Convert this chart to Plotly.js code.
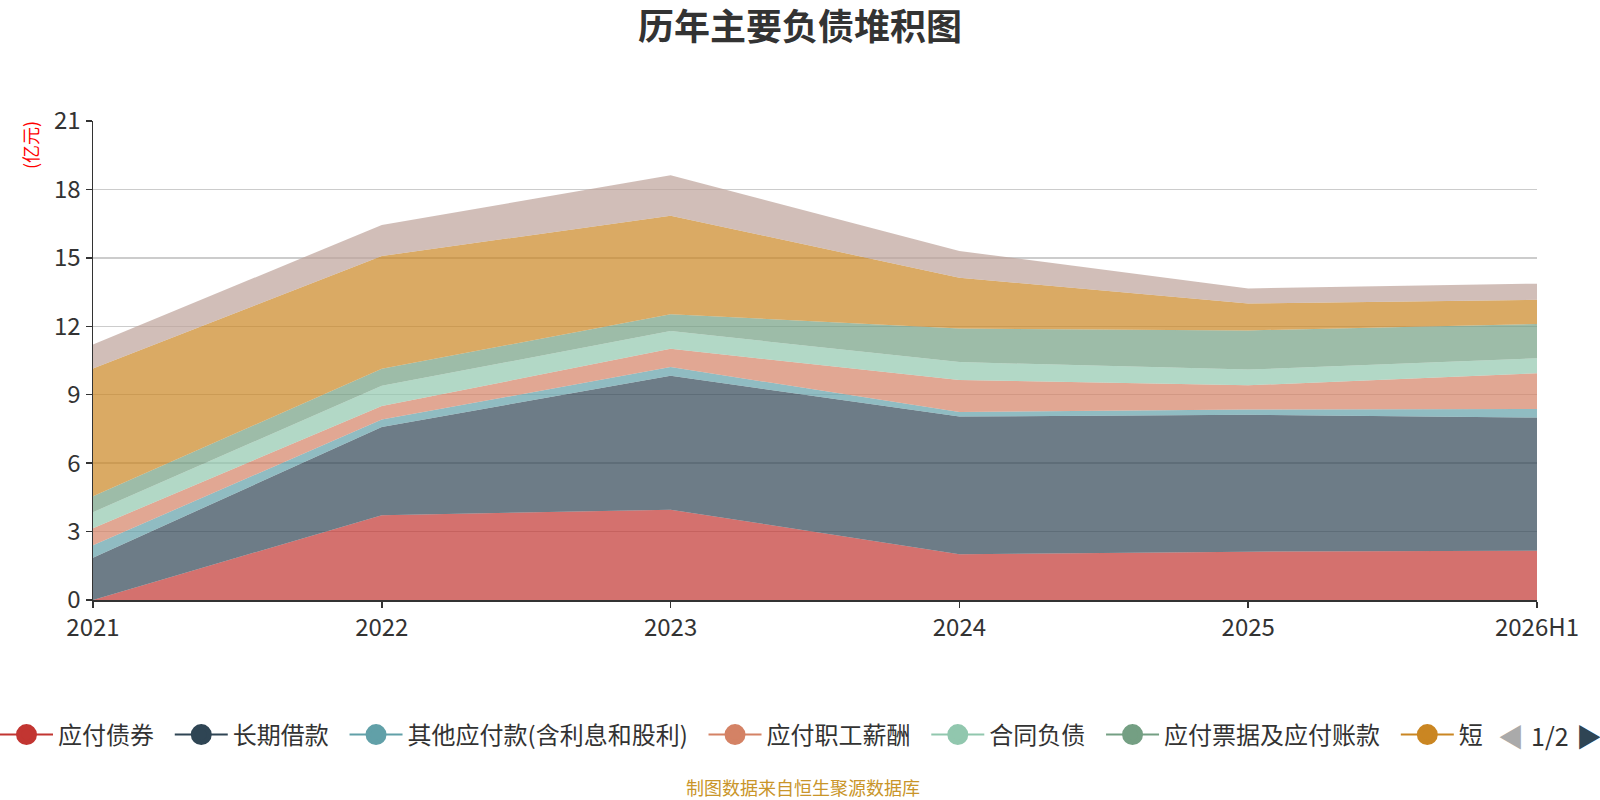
<!DOCTYPE html>
<html>
<head>
<meta charset="utf-8">
<script src="https://cdn.plot.ly/plotly-3.0.1.min.js"></script>
<style>
  html, body { margin: 0; padding: 0; background: #fff; }
  #chart { width: 1600px; height: 800px; }
</style>
</head>
<body>
<div id="chart"></div>
<script>
// 单位：亿元
const years = ["2021", "2022", "2023", "2024", "2025", "2026H1"];
const bonds = [0.00, 3.72, 3.96, 2.01, 2.12, 2.16];            // 应付债券
const longLoans = [1.85, 3.87, 5.87, 6.03, 6.00, 5.84];        // 长期借款
const otherPayables = [0.55, 0.32, 0.38, 0.20, 0.23, 0.37];    // 其他应付款(含利息和股利)
const staffPay = [0.75, 0.59, 0.80, 1.41, 1.06, 1.57];         // 应付职工薪酬
const contractLiab = [0.70, 0.89, 0.78, 0.78, 0.69, 0.66];     // 合同负债
const notesAccounts = [0.70, 0.75, 0.74, 1.47, 1.72, 1.50];    // 应付票据及应付账款
const shortLoans = [5.60, 4.94, 4.32, 2.23, 1.18, 1.06];       // 短期借款
const dueWithinYear = [1.05, 1.36, 1.77, 1.17, 0.66, 0.71];    // 一年内到期的非流动负债

const seriesNames = ["应付债券", "长期借款", "其他应付款(含利息和股利)", "应付职工薪酬",
                     "合同负债", "应付票据及应付账款", "短期借款", "一年内到期的非流动负债"];
const seriesValues = [bonds, longLoans, otherPayables, staffPay,
                      contractLiab, notesAccounts, shortLoans, dueWithinYear];
const colors = ["#c23531", "#2f4554", "#61a0a8", "#d48265",
                "#91c7ae", "#749f83", "#ca8622", "#bda29a"];

// legend page 1 of 2; the last visible entry is cut off by the pager
const legendLabels = ["应付债券", "长期借款", "其他应付款(含利息和股利)", "应付职工薪酬",
                      "合同负债", "应付票据及应付账款", "短"];

function rgba(hex, a) {
    const n = parseInt(hex.slice(1), 16);
    return `rgba(${(n >> 16) & 255},${(n >> 8) & 255},${n & 255},${a})`;
}

const FONT = "Noto Sans CJK SC, Noto Sans, sans-serif";
const W = 1600, H = 800;
const M = { l: 93, r: 63, t: 121, b: 200 };
const plotW = W - M.l - M.r, plotH = H - M.t - M.b;
// pixel -> paper helpers for the loose texts
const px = (x) => (x - M.l) / plotW;
const py = (y) => (H - M.b - y) / plotH;

const pad = "\u00a0\u00a0";

// stacked areas
const areaTraces = seriesValues.map((vals, i) => ({
    type: "scatter",
    x: years,
    y: vals,
    name: seriesNames[i],
    stackgroup: "debt",
    mode: "lines",
    line: { width: 0, color: colors[i] },
    fillcolor: rgba(colors[i], 0.7),
    showlegend: false,
    hovertemplate: "%{x}<br>" + seriesNames[i] + ": %{y:.2f}亿元<extra></extra>"
}));

// legend entries
const legendTraces = legendLabels.map((name, i) => ({
    type: "scatter",
    x: [null],
    y: [null],
    name: name + (i < legendLabels.length - 1 ? pad : ""),
    mode: "lines+markers",
    line: { color: colors[i], width: 2 },
    marker: { color: colors[i], size: 16, line: { color: colors[i], width: 5 } },
    showlegend: true,
    hoverinfo: "skip"
}));

const layout = {
    width: W,
    height: H,
    paper_bgcolor: "#fff",
    plot_bgcolor: "#fff",
    margin: { l: M.l, r: M.r, t: M.t, b: M.b, autoexpand: false },
    font: { family: FONT, color: "#333" },
    title: {
        text: "历年主要负债堆积图",
        font: { family: FONT, size: 36, color: "#333", weight: "bold" },
        x: 0.5,
        xanchor: "center",
        y: 1 - 27 / H,
        yanchor: "middle"
    },
    xaxis: {
        type: "category",
        range: [0, years.length - 1],
        showgrid: false,
        showline: true,
        linecolor: "#333",
        linewidth: 1.5,
        ticks: "outside",
        ticklen: 6,
        tickwidth: 1.5,
        tickcolor: "#333",
        tickfont: { size: 24, color: "#333" },
        zeroline: false,
        fixedrange: true
    },
    yaxis: {
        range: [0, 21],
        dtick: 3,
        showgrid: true,
        gridcolor: "#ccc",
        gridwidth: 1.5,
        showline: true,
        linecolor: "#333",
        linewidth: 1.5,
        ticks: "outside",
        ticklen: 6,
        tickwidth: 1.5,
        tickcolor: "#333",
        tickfont: { size: 24, color: "#333" },
        zeroline: false,
        fixedrange: true
    },
    showlegend: true,
    legend: {
        orientation: "h",
        x: px(-5),
        xanchor: "left",
        y: py(735),
        yanchor: "middle",
        font: { size: 24, color: "#333" },
        itemwidth: 53,
        bgcolor: "rgba(0,0,0,0)",
        traceorder: "normal"
    },
    annotations: [
        {
            text: "(亿元)",
            xref: "paper", yref: "paper",
            x: px(30), y: py(145),
            xanchor: "center", yanchor: "middle",
            textangle: -90,
            showarrow: false,
            font: { size: 18, color: "#ff0000" }
        },
        {
            text: "制图数据来自恒生聚源数据库",
            xref: "paper", yref: "paper",
            x: px(803), y: py(787),
            xanchor: "center", yanchor: "middle",
            showarrow: false,
            font: { size: 18, color: "#c9952a" }
        },
        {
            text: "◀",
            xref: "paper", yref: "paper",
            x: px(1511), y: py(735),
            xanchor: "center", yanchor: "middle",
            showarrow: false,
            font: { size: 26, color: "#aaa" }
        },
        {
            text: "1/2",
            xref: "paper", yref: "paper",
            x: px(1550), y: py(735),
            xanchor: "center", yanchor: "middle",
            showarrow: false,
            font: { size: 25, color: "#333" }
        },
        {
            text: "▶",
            xref: "paper", yref: "paper",
            x: px(1589), y: py(735),
            xanchor: "center", yanchor: "middle",
            showarrow: false,
            font: { size: 26, color: "#2f4554" }
        }
    ]
};

Plotly.newPlot("chart", [...areaTraces, ...legendTraces], layout, { displayModeBar: false, staticPlot: true });
</script>
</body>
</html>
